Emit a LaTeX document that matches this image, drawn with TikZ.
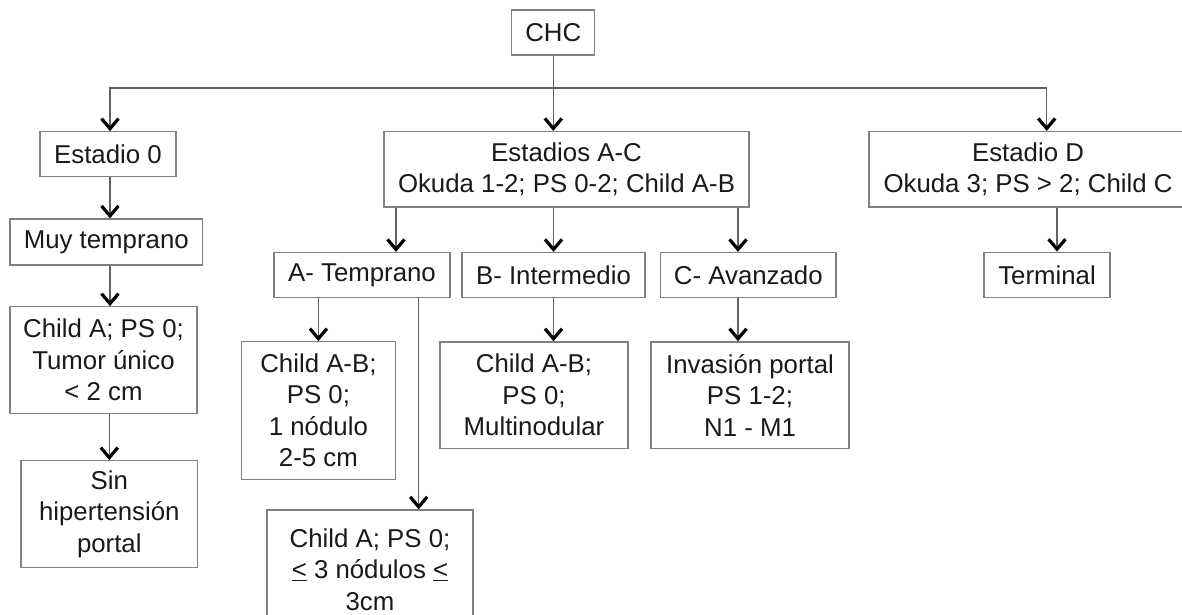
\documentclass[tikz,border=0pt]{standalone}
\usepackage{fontspec}
\setmainfont{Liberation Sans}
\usetikzlibrary{arrows.meta, positioning, calc}

\begin{document}
\begin{tikzpicture} [
    x=1pt, y=-1pt,
    stage/.style={rectangle, draw=black!50, line width=1.3pt, inner sep=0pt, text=black!90, font=\fontsize{25.8}{31.5}\selectfont, align=center},
    arrow/.style={-{Straight Barb[length=10pt, width=17pt, line width=3.2pt 0, color=black]}, draw=black!62, line width=1.3pt}
]
\clip (0,0) rectangle (1182,614);

% Define all nodes first
\node[stage, minimum width=83pt, minimum height=45pt] (chc) at (553.3,32.5) {CHC};

\node[stage, minimum width=136pt, minimum height=44.5pt] (est0) at (108,154) {Estadio 0};
\node[stage, minimum width=365pt, minimum height=75.5pt] (estAC) at (566.5,169.3) {Estadios A-C\\Okuda 1-2; PS 0-2; Child A-B};
\node[stage, minimum width=318pt, minimum height=75.5pt] (estD) at (1028,169.3) {Estadio D\\Okuda 3; PS > 2; Child C};

\node[stage, minimum width=192.7pt, minimum height=46pt] (muy) at (106.3,242) {Muy temprano};
\node[stage, minimum width=176pt, minimum height=45pt] (aTemp) at (362,275) {A- Temprano};
\node[stage, minimum width=183pt, minimum height=45pt] (bInt) at (553.5,275) {B- Intermedio};
\node[stage, minimum width=175.5pt, minimum height=45pt] (cAv) at (748.3,275) {C- Avanzado};
\node[stage, minimum width=126pt, minimum height=45.5pt] (term) at (1047,275) {Terminal};

\node[stage, minimum width=187pt, minimum height=106.5pt] (tumor) at (103.5,360) {Child A; PS 0;\\Tumor único\\< 2 cm};
\node[stage, minimum width=176.5pt, minimum height=106.6pt] (sin) at (109.3,514) {Sin\\hipertensión\\portal};
\node[stage, minimum width=153.8pt, minimum height=137.6pt] (aOne) at (318.4,410.5) {Child A-B;\\PS 0;\\1 nódulo\\2-5 cm};
\node[stage, minimum width=206pt, minimum height=119pt] (aThree) at (370,569.5) {Child A; PS 0;\\\underline{<} 3 nódulos \underline{<}\\3cm};
\node[stage, minimum width=188pt, minimum height=106.3pt] (bMult) at (534,395) {Child A-B;\\PS 0;\\Multinodular};
\node[stage, minimum width=198pt, minimum height=106.3pt] (cInv) at (750,395) {Invasión portal\\PS 1-2;\\N1 - M1};

% Connectors
\coordinate (bus) at ($(chc.south)+(0,32.3)$);
\draw[draw=black!62, line width=1.3pt] (chc.south) -- (bus);
\draw[arrow] (bus) -- (bus |- estAC.north);
\draw[arrow] (bus) -| ([xshift=2]est0.north);
\draw[arrow] (bus) -| ([xshift=18.7]estD.north);

\draw[arrow] ([xshift=2]est0.south) -- ([xshift=2]est0.south |- muy.north);
\draw[arrow] ([xshift=3.7]muy.south) -- ([xshift=3.7]muy.south |- tumor.north);
\draw[arrow] (sin.north |- tumor.south) -- (sin.north);

\draw[arrow] ([xshift=34]aTemp.north |- estAC.south) -- ([xshift=34]aTemp.north);
\draw[arrow] (bInt.north |- estAC.south) -- (bInt.north);
\draw[arrow] ([xshift=-10.3]cAv.north |- estAC.south) -- ([xshift=-10.3]cAv.north);
\draw[arrow] ([xshift=10]term.north |- estD.south) -- ([xshift=10]term.north);

\draw[arrow] (aOne.north |- aTemp.south) -- (aOne.north);
\draw[arrow] ([xshift=48.7]aThree.north |- aTemp.south) -- ([xshift=48.7]aThree.north);
\draw[arrow] (bInt.south) -- (bInt.south |- bMult.north);
\draw[arrow] ([xshift=-12]cInv.north |- cAv.south) -- ([xshift=-12]cInv.north);

\end{tikzpicture}
\end{document}
